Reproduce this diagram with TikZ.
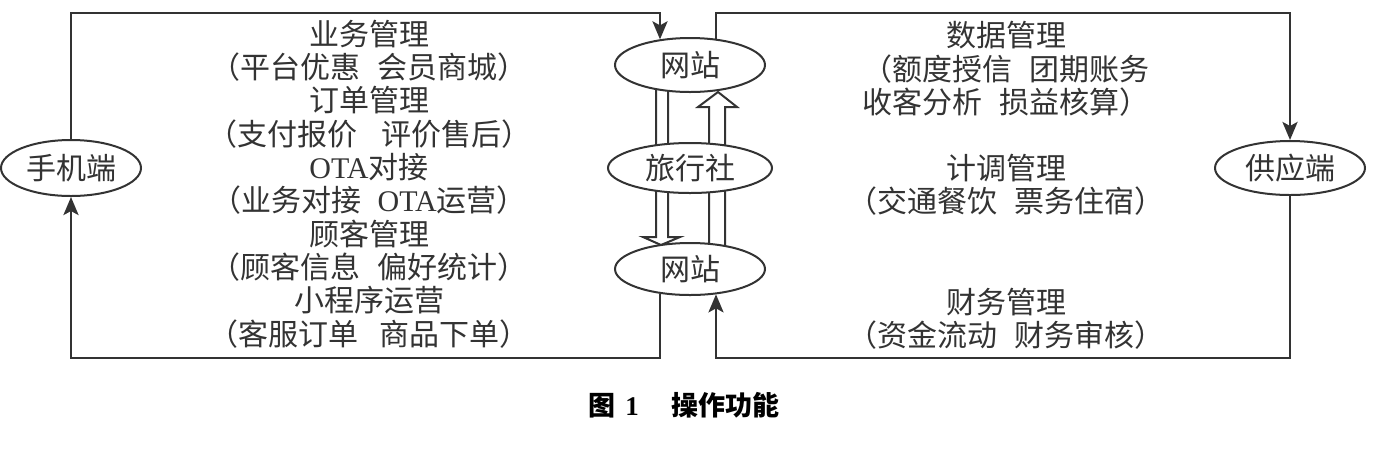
\documentclass[tikz,border=0pt]{standalone}
\usepackage{fontspec}
\setmainfont{Liberation Serif}
\newfontfamily\cjk{Noto Sans CJK SC}
\usetikzlibrary{arrows.meta,shapes.geometric,backgrounds,calc}
\definecolor{ink}{HTML}{333333}
\newcommand{\lat}[1]{{\rmfamily #1}}
\newcommand{\gp}[1][0.55em]{\hspace{#1}}
\begin{document}
\begin{tikzpicture}[x=1pt,y=-1pt,
  ell/.style={ellipse,draw=ink,line width=2pt,fill=white,inner sep=0pt,
    font=\fontsize{30}{33}\selectfont\cjk,text=ink},
  txt/.style={align=center,inner sep=0pt,font=\fontsize{30}{33.3}\selectfont\cjk,text=ink},
  frame/.style={draw=ink,line width=2.8pt,line join=miter},
  arr/.style={-{Stealth[length=18pt,width=15pt,inset=4pt]}},
  hollow/.style={draw=ink,line width=2pt,line join=miter}]
\useasboundingbox (0,0) rectangle (1384,451);
% ellipses
\node[ell,minimum width=140pt,minimum height=56pt] (phone) at (71,168) {手机端};
\node[ell,minimum width=150pt,minimum height=54pt] (w1) at (690,65) {网站};
\node[ell,minimum width=164pt,minimum height=50pt] (ts) at (690,168) {旅行社};
\node[ell,minimum width=150pt,minimum height=52pt] (w2) at (690,269) {网站};
\node[ell,minimum width=150pt,minimum height=54pt] (supply) at (1290,168) {供应端};
% corner coordinates
\coordinate (LT) at (660,13);
\coordinate (LB) at (660,358);
\coordinate (RT) at (716,13);
\coordinate (RB) at (716,358);
% frames
\draw[frame,arr] (phone.north) |- (LT) -- (w1.140.5 -| LT);
\draw[frame,arr] (w2.218.4 -| LB) -- (LB) -| (phone.south);
\draw[frame,arr] (w1.44.2 -| RT) -- (RT) -| (supply.north);
\draw[frame,arr] (supply.south) |- (RB) -- (w2.316.8 -| RB);
% hollow arrows
\begin{scope}[on background layer]
\draw[hollow] ($(w1.center)+(-34,0)$) -- ($(w2.center)+(-34,-32)$)
  -- ($(w2.center)+(-47,-32)$) -- ($(w2.center)+(-29,-24)$)
  -- ($(w2.center)+(-10,-32)$) -- ($(w2.center)+(-22,-32)$)
  -- ($(w1.center)+(-22,0)$);
\draw[hollow] ($(w2.center)+(19,0)$) -- ($(w1.center)+(19,42)$)
  -- ($(w1.center)+(8,42)$) -- ($(w1.center)+(28,27)$)
  -- ($(w1.center)+(47,42)$) -- ($(w1.center)+(35,42)$)
  -- ($(w2.center)+(35,0)$);
\end{scope}
% texts
\node[txt] (left) at (369,184) {业务管理\\（平台优惠\gp 会员商城）\\订单管理\\（支付报价\gp[0.8em]评价售后）\\\lat{OTA}对接\\（业务对接\gp\lat{OTA}运营）\\顾客管理\\（顾客信息\gp 偏好统计）\\小程序运营\\（客服订单\gp[0.7em]商品下单）};
\node[txt] (data) at (1006,69) {数据管理\\（额度授信\gp 团期账务\\收客分析\gp 损益核算）};
\node[txt] (plan) at (1006,185) {计调管理\\（交通餐饮\gp 票务住宿）};
\node[txt] (fin) at (1006,319) {财务管理\\（资金流动\gp 财务审核）};
% caption
\node[inner sep=0pt,font=\fontsize{27}{30}\selectfont\cjk\bfseries,text=black] (cap) at (684,405) {图\hspace{0.35em}\lat{\bfseries 1}\hspace{1.2em}操作功能};
\end{tikzpicture}
\end{document}
